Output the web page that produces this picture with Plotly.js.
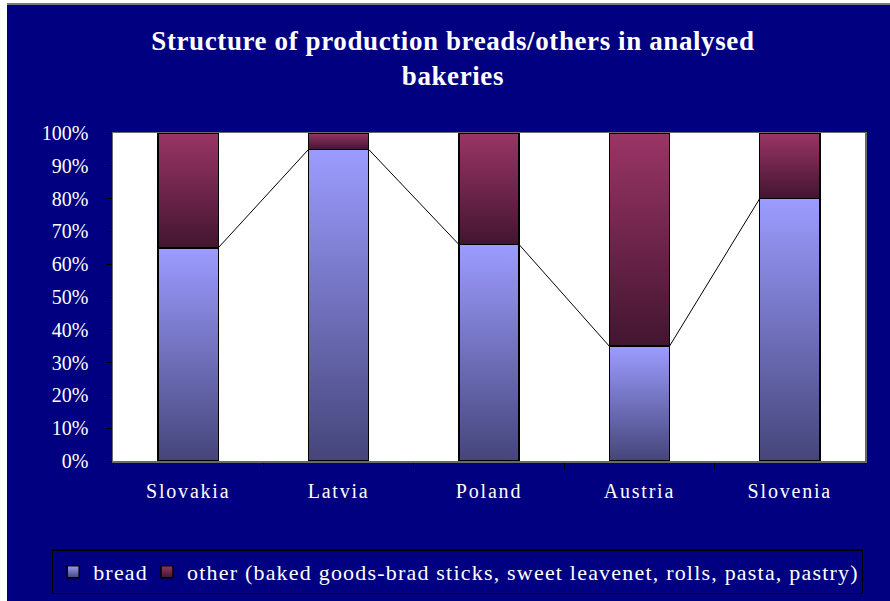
<!DOCTYPE html>
<html>
<head>
<meta charset="utf-8">
<script src="https://cdn.plot.ly/plotly-3.0.1.min.js"></script>
<style>
  html, body { margin: 0; padding: 0; background: #ffffff; }
  #wrap { position: absolute; left: 7px; top: 3px; width: 883px; height: 598px; border-top: 2px solid #7a7a7a; }
  #chart { width: 883px; height: 596px; }
  .xtick text { letter-spacing: 1.8px; }
  .legend text.legendtext { letter-spacing: 1.2px; }
  .gtitle { letter-spacing: 0.6px; }
</style>
</head>
<body>
<div id="wrap"><div id="chart"></div></div>
<script>
// ---- data ----
const countries = ["Slovakia", "Latvia", "Poland", "Austria", "Slovenia"];
const bread = [65, 95, 66, 35, 80];
const other = [35, 5, 34, 65, 20];
const seriesNames = ["bread", "other (baked goods-brad sticks, sweet leavenet, rolls, pasta, pastry)"];
const yTickVals = [0, 10, 20, 30, 40, 50, 60, 70, 80, 90, 100];
const yTickText = yTickVals.map(function (v) { return v + "%"; });

// ---- style ----
const FONT = "Liberation Serif, Times New Roman, serif";
const NAVY = "#000080";
const BAR_W = 0.4;

// series lines connecting bread tops (right edge of one bar to left edge of next)
const lx = [], ly = [];
for (let i = 0; i < countries.length - 1; i++) {
  lx.push(i + BAR_W / 2, i + 1 - BAR_W / 2, null);
  ly.push(bread[i], bread[i + 1], null);
}

const traces = [
  { type: "bar", name: seriesNames[0], x: countries, y: bread, width: BAR_W,
    marker: { color: "#7b7bd0", line: { color: "#000000", width: 1.5 } }, hoverinfo: "none" },
  { type: "bar", name: seriesNames[1], x: countries, y: other, width: BAR_W,
    marker: { color: "#6e2448", line: { color: "#000000", width: 1.5 } }, hoverinfo: "none" },
  { type: "scatter", mode: "lines", x: lx, y: ly, xaxis: "x2", yaxis: "y",
    line: { color: "#000000", width: 1 }, showlegend: false, hoverinfo: "none", connectgaps: false }
];

const layout = {
  width: 883, height: 596,
  paper_bgcolor: NAVY, plot_bgcolor: "#ffffff",
  margin: { l: 106, r: 25, t: 128, b: 140, autoexpand: false },
  barmode: "stack",
  showlegend: true,
  title: {
    text: "Structure of production breads/others in analysed<br>bakeries",
    font: { family: FONT, size: 27, color: "#ffffff", weight: 700 },
    xref: "container", x: 0.505, xanchor: "center",
    yref: "container", y: 0.925, yanchor: "top"
  },
  xaxis: {
    type: "category", categoryorder: "array", categoryarray: countries,
    tickson: "boundaries", ticks: "outside", ticklen: 6, tickcolor: "#000000", tickwidth: 1,
    showline: true, linecolor: "#6a6a6a", linewidth: 1.5, mirror: true,
    showgrid: false, zeroline: false,
    tickfont: { family: FONT, size: 20, color: "#ffffff" },
    ticklabelstandoff: 11, fixedrange: true
  },
  xaxis2: { overlaying: "x", range: [-0.5, countries.length - 0.5], visible: false, fixedrange: true },
  yaxis: {
    range: [0, 100], tickvals: yTickVals, ticktext: yTickText,
    ticks: "outside", ticklen: 6, tickcolor: "#000000", tickwidth: 1,
    showline: true, linecolor: "#6a6a6a", linewidth: 1.5, mirror: true,
    showgrid: false, zeroline: false,
    tickfont: { family: FONT, size: 20, color: "#ffffff" },
    ticklabelstandoff: 13, fixedrange: true
  },
  legend: {
    orientation: "h", x: 0.458, xanchor: "center",
    y: -0.338, yanchor: "middle",
    bgcolor: NAVY, bordercolor: "#000000", borderwidth: 1.5,
    font: { family: FONT, size: 22, color: "#ffffff" },
    traceorder: "normal", itemclick: false, itemdoubleclick: false
  }
};

Plotly.newPlot("chart", traces, layout, { displayModeBar: false, staticPlot: true }).then(function (gd) {
  const svg = gd.querySelector("svg.main-svg");
  const ns = "http://www.w3.org/2000/svg";
  const defs = document.createElementNS(ns, "defs");
  function grad(id, top, bottom) {
    const g = document.createElementNS(ns, "linearGradient");
    g.setAttribute("id", id);
    g.setAttribute("x1", "0"); g.setAttribute("y1", "0");
    g.setAttribute("x2", "0"); g.setAttribute("y2", "1");
    [[0, top], [1, bottom]].forEach(function (s) {
      const st = document.createElementNS(ns, "stop");
      st.setAttribute("offset", s[0]);
      st.setAttribute("stop-color", s[1]);
      g.appendChild(st);
    });
    defs.appendChild(g);
  }
  grad("gBread", "#9c9cff", "#45457a");
  grad("gOther", "#9a3566", "#421530");
  svg.insertBefore(defs, svg.firstChild);
  const ids = ["gBread", "gOther"];
  gd.querySelectorAll(".barlayer .trace").forEach(function (t, i) {
    t.querySelectorAll("path").forEach(function (p) { p.style.fill = "url(#" + ids[i] + ")"; });
  });
  gd.querySelectorAll(".legend .traces").forEach(function (t, i) {
    if (i < 2) t.querySelectorAll(".legendpoints path").forEach(function (p) {
      p.style.fill = "url(#" + ids[i] + ")";
      p.style.stroke = "#000000";
    });
  });

  // widen legend frame to fit the letter-spaced text, keep it centred
  try {
    const leg = gd.querySelector("g.legend");
    const bg = leg.querySelector("rect.bg");
    const legLeft = bg.getBoundingClientRect().left;
    let maxRight = 0;
    leg.querySelectorAll("text.legendtext").forEach(function (t) {
      maxRight = Math.max(maxRight, t.getBoundingClientRect().right);
    });
    const newW = Math.ceil(maxRight - legLeft + 3);
    const oldW = parseFloat(bg.getAttribute("width"));
    if (newW > oldW) {
      bg.setAttribute("width", newW);
      const sb = leg.querySelector(".scrollbox");
      const cp = sb && sb.getAttribute("clip-path");
      if (cp) {
        const m = cp.match(/#([^)'"]+)/);
        if (m) {
          const clip = document.getElementById(m[1]);
          if (clip) clip.querySelectorAll("rect").forEach(function (r) { r.setAttribute("width", newW + 10); });
        }
      }
      const tr = leg.getAttribute("transform") || "";
      const mm = tr.match(/translate\(\s*([-\d.]+)[ ,]+([-\d.]+)\s*\)/);
      if (mm) {
        const cx = parseFloat(mm[1]) + oldW / 2;
        leg.setAttribute("transform", "translate(" + (cx - newW / 2) + "," + mm[2] + ")");
      }
    }
  } catch (e) { /* keep default legend */ }
});
</script>
</body>
</html>
